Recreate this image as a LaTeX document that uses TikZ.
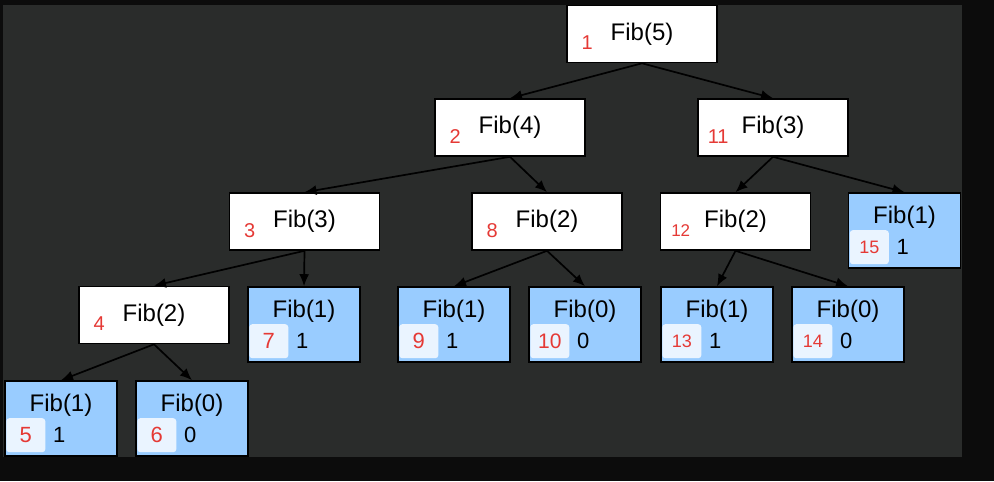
\documentclass[tikz,border=0pt]{standalone}
\usepackage{fontspec}
\setmainfont{Liberation Sans}
\usepackage{tikz}
\usetikzlibrary{arrows.meta}

\definecolor{outside}{RGB}{12,12,12}
\definecolor{panel}{RGB}{42,44,43}
\definecolor{leafblue}{RGB}{153,204,255}
\definecolor{tagwhite}{RGB}{234,244,255}
\definecolor{numred}{RGB}{229,57,53}

\begin{document}
\begin{tikzpicture}[x=0.5pt,y=-0.5pt,
	call/.style={draw=black, line width=0.8pt, fill=white, minimum width=75pt, minimum height=28.5pt, inner sep=0pt, font=\fontsize{12}{13}\selectfont},
	leaf/.style={draw=black, line width=0.8pt, fill=leafblue, minimum width=56pt, minimum height=37.5pt, inner sep=0pt},
	fibtext/.style={inner sep=0pt, font=\fontsize{12}{13}\selectfont},
	tag/.style={fill=tagwhite, rounded corners=1.5pt, minimum width=19.5pt, minimum height=17pt, inner sep=0pt, text=numred},
	num/.style={text=numred, inner sep=0pt},
	edge/.style={-{Latex[length=6pt,width=5pt]}, line width=0.85pt}]

	% background
	\fill[outside] (0,0) rectangle (994,481);
	\fill[panel] (3,5) rectangle (962,457);

	% inner calls
	\foreach \name/\x/\y/\n/\k/\s in {f1/642/34/5/1/10, f2/510/127.5/4/2/10, f11/773/127.5/3/11/10, f3/304.5/221.5/3/3/10, f8/547/221.5/2/8/10, f12/735.5/221.5/2/12/8.5, f4/154/315/2/4/10} {
		\node[call] (\name) at (\x,\y) {Fib(\n)};
		\node[num, font=\fontsize{\s}{10}\selectfont] (\name-num) at ([xshift=10.5pt,yshift=-4.5pt]\name.west) {\k};
	}

	% leaves
	\foreach \name/\x/\y/\n/\k/\s in {f5/61/418.5/1/5/11, f6/192/418.5/0/6/11, f7/304/324.5/1/7/11, f9/454/324.5/1/9/11, f10/585/324.5/0/10/10.5, f13/717/324.5/1/13/9, f14/848/324.5/0/14/9, f15/904.5/230.5/1/15/9} {
		\node[leaf] (\name) at (\x,\y) {};
		\node[fibtext] (\name-fib) at ([yshift=-12.5pt]\name.north) {Fib(\n)};
		\node[tag, font=\fontsize{\s}{10}\selectfont] (\name-tag) at ([xshift=10.8pt,yshift=-27.5pt]\name.north west) {\k};
		\node[fibtext, font=\fontsize{11}{12}\selectfont] (\name-val) at ([xshift=27.5pt,yshift=-27.5pt]\name.north west) {\n};
	}

	% calls
	\foreach \a/\b in {f1/f2, f1/f11, f2/f3, f2/f8, f3/f4, f3/f7, f4/f5, f4/f6, f8/f9, f8/f10, f11/f12, f11/f15, f12/f13, f12/f14}
		\draw[edge] (\a.south) -- (\b.north);

\end{tikzpicture}
\end{document}
